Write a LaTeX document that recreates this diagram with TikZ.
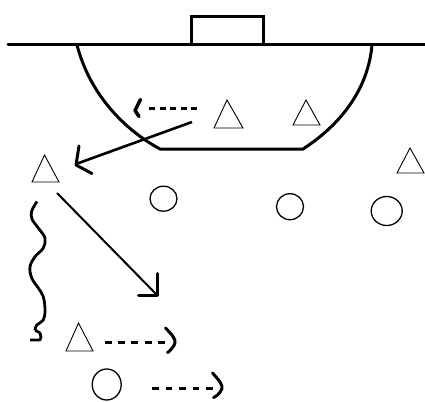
\documentclass[tikz,border=0pt]{standalone}
\usetikzlibrary{shapes.geometric}
\begin{document}
\begin{tikzpicture}[x=1pt,y=-1pt,
  field/.style={line width=3pt},
  player/.style={line width=0.9pt, line join=miter},
  ring/.style={draw, ellipse, inner sep=0pt, line width=1.3pt},
  pass/.style={line width=2.6pt},
  run/.style={line width=3pt, dash pattern=on 6.5pt off 6.5pt},
  tip/.style={line width=3pt, line cap=round, line join=round},
  wave/.style={line width=2.8pt, line join=round}]
\useasboundingbox (0,0) rectangle (425,401);
% field
\draw[field, line cap=round] (8,44.5) -- (425,44.5);
\draw[field] (191,44.5) -- (191,16.5) -- (263,16.5) -- (263,44.5);
\draw[field] (77,45) .. controls (90,95) and (125,130) .. (160,149)
  -- (303,149) .. controls (340,125) and (368,90) .. (372,45);
% triangles (players)
\coordinate (t1) at (228,114);
\draw[player] (227,100) -- (243,128) -- (214,128) -- cycle;
\coordinate (t2) at (306,112);
\draw[player] (306,100) -- (320,125) -- (293,125) -- cycle;
\coordinate (t3) at (410,161);
\draw[player] (410,148) -- (424,173) -- (397,173) -- cycle;
\coordinate (t4) at (45,168);
\draw[player] (44.5,155) -- (59,182) -- (32,182) -- cycle;
\coordinate (t5) at (79,337);
\draw[player] (78.5,323) -- (93,351) -- (66,351) -- cycle;
% circles
\node[ring, minimum width=27pt, minimum height=25pt] (c1) at (163.5,198.7) {};
\node[ring, minimum width=27pt, minimum height=26pt] (c2) at (290,206.7) {};
\node[ring, minimum width=31pt, minimum height=29pt] (c3) at (386.7,211) {};
\node[ring, minimum width=29pt, minimum height=31pt] (c4) at (106.7,384.5) {};
% dotted run, top
\coordinate (a1s) at (197,109);
\coordinate (a1e) at (149,109);
\draw[run, dash pattern=on 6pt off 4.5pt] (a1s) -- (a1e);
\draw[tip, line width=3.5pt] (140.5,99.5) -- (135,110.5) -- (139,116.5);
% solid pass to left triangle
\coordinate (a2s) at (192,122);
\coordinate (a2e) at (76,164);
\draw[pass] (a2s) -- (a2e);
\draw[tip] (79,146) -- (76,165) -- (92,173.5);
% diagonal pass
\coordinate (a3s) at (57,193);
\coordinate (a3e) at (157,295);
\draw[line width=2pt] (a3s) -- (a3e);
\draw[tip] (157,273.5) -- (157,295.5) -- (138.5,295.5);
% wavy dribble
\coordinate (ws) at (37,201.5);
\coordinate (we) at (30,340);
\draw[wave] plot[smooth, tension=0.6] coordinates {(ws) (31.7,211) (32,219) (38.3,228) (45,238) (43.3,248) (35,256.7) (30,266.7) (31.7,278) (38.3,288) (43.3,296.7) (45,310) (43.3,320) (36.7,325) (35,330)};
\draw[wave] (35,330) -- (40,333) -- (41,337) -- (40,340) -- (we);
% dotted runs, bottom
\coordinate (a4s) at (105,342.5);
\coordinate (a4e) at (166,342.5);
\draw[run, dash pattern=on 7pt off 6.2pt] (a4s) -- (a4e);
\draw[tip] plot[smooth, tension=0.6] coordinates {(165.5,328) (173,336.5) (175,343) (170.5,350) (167.5,352.5)};
\coordinate (a5s) at (152,388);
\coordinate (a5e) at (215,388);
\draw[run, dash pattern=on 6.5pt off 7pt] (a5s) -- (a5e);
\draw[tip] plot[smooth, tension=0.6] coordinates {(212.5,373) (220,382) (222,388.5) (217.5,395) (213.5,397.5)};
\end{tikzpicture}
\end{document}
